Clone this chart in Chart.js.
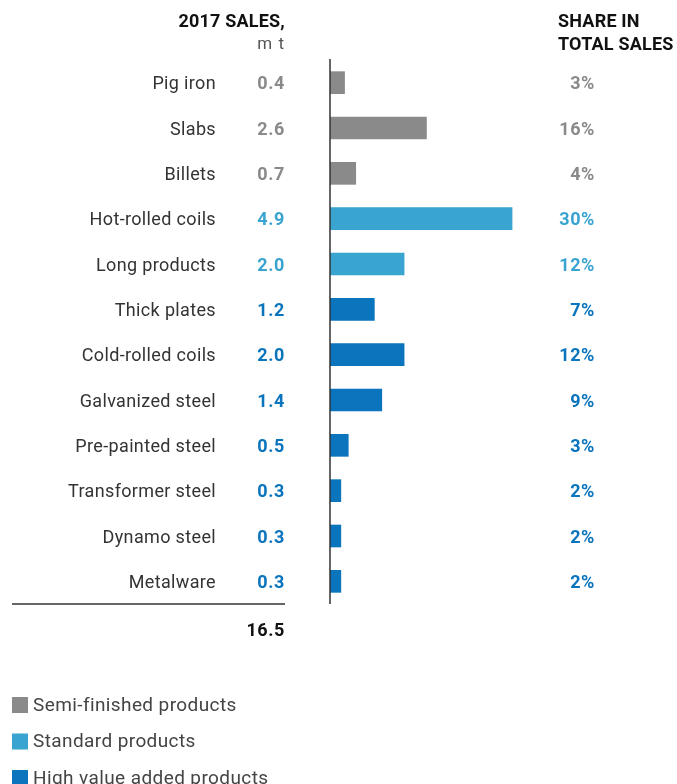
<!DOCTYPE html>
<html>
<head>
<meta charset="utf-8">
<script src="https://cdn.jsdelivr.net/npm/chart.js@4/dist/chart.umd.min.js"></script>
<style>
  body { margin: 0; background: #fff; }
  #wrap { width: 677px; height: 784px; }
</style>
</head>
<body>
<div id="wrap"><canvas id="chart_sales" width="677" height="784"></canvas></div>
<script>
// 데이터
const categories = ['Pig iron', 'Slabs', 'Billets', 'Hot-rolled coils', 'Long products', 'Thick plates',
    'Cold-rolled coils', 'Galvanized steel', 'Pre-painted steel', 'Transformer steel', 'Dynamo steel', 'Metalware'];
const sales = [0.4, 2.6, 0.7, 4.9, 2.0, 1.2, 2.0, 1.4, 0.5, 0.3, 0.3, 0.3];
const shares = [3, 16, 4, 30, 12, 7, 12, 9, 3, 2, 2, 2];
const groupOf = [0, 0, 0, 1, 1, 2, 2, 2, 2, 2, 2, 2];
const groupNames = ['Semi-finished products', 'Standard products', 'High value added products'];
const groupColors = ['#8a8a8a', '#39a4cf', '#0a74bc'];
const totalSales = '16.5';

const FONT = 'Roboto, "Noto Sans", sans-serif';

// 그룹별 데이터셋
const datasets = groupNames.map(function(name, g) {
    return {
        label: name,
        data: sales.map(function(v, i) { return groupOf[i] === g ? v : null; }),
        backgroundColor: groupColors[g],
        borderWidth: 0,
        barPercentage: 0.5,
        categoryPercentage: 1
    };
});

// 텍스트, 축선, 범례 그리기
const tablePlugin = {
    id: 'tablePlugin',
    afterDraw: function(chart) {
        const ctx = chart.ctx;
        const x = chart.scales.x;
        const y = chart.scales.y;
        const area = chart.chartArea;
        ctx.save();

        // 세로 축선
        ctx.strokeStyle = '#333';
        ctx.lineWidth = 1.5;
        ctx.beginPath();
        ctx.moveTo(x.getPixelForValue(0), area.top - 1);
        ctx.lineTo(x.getPixelForValue(0), area.bottom);
        ctx.stroke();

        // 헤더
        ctx.textBaseline = 'middle';
        ctx.fillStyle = '#111';
        ctx.font = 'bold 18px ' + FONT;
        ctx.letterSpacing = '0.2px';
        ctx.textAlign = 'right';
        ctx.fillText('2017 SALES,', 285, 22);
        ctx.textAlign = 'left';
        ctx.fillText('SHARE IN', 558, 22);
        ctx.fillText('TOTAL SALES', 558, 45);
        ctx.textAlign = 'right';
        ctx.font = '17px ' + FONT;
        ctx.letterSpacing = '1px';
        ctx.fillStyle = '#555';
        ctx.fillText('m t', 285, 45);

        // 행 텍스트
        categories.forEach(function(cat, i) {
            const py = y.getPixelForValue(i) + 2;
            const col = groupColors[groupOf[i]];
            ctx.textAlign = 'right';
            ctx.font = '18px ' + FONT;
            ctx.letterSpacing = '0.35px';
            ctx.fillStyle = '#333';
            ctx.fillText(cat, 216, py);
            ctx.font = 'bold 18px ' + FONT;
            ctx.letterSpacing = '0.6px';
            ctx.fillStyle = col;
            ctx.fillText(sales[i].toFixed(1), 285, py);
            ctx.fillText(shares[i] + '%', 595, py);
        });

        // 합계
        ctx.strokeStyle = '#333';
        ctx.lineWidth = 1.5;
        ctx.beginPath();
        ctx.moveTo(12, area.bottom);
        ctx.lineTo(285, area.bottom);
        ctx.stroke();
        ctx.font = 'bold 18px ' + FONT;
        ctx.letterSpacing = '0.6px';
        ctx.fillStyle = '#111';
        ctx.textAlign = 'right';
        ctx.fillText(totalSales, 285, 631);

        // 범례
        ctx.textAlign = 'left';
        ctx.font = '19px ' + FONT;
        ctx.letterSpacing = '0.4px';
        chart.data.datasets.forEach(function(ds, g) {
            const ly = 705 + g * 36.5;
            ctx.fillStyle = ds.backgroundColor;
            ctx.fillRect(12, ly - 8, 16, 16);
            ctx.fillStyle = '#444';
            ctx.fillText(ds.label, 33, ly + 1);
        });
        ctx.restore();
    }
};

const chartSales = new Chart(document.getElementById('chart_sales'), {
    type: 'bar',
    data: { labels: categories, datasets: datasets },
    options: {
        indexAxis: 'y',
        responsive: false,
        animation: false,
        layout: { padding: { left: 330, top: 60, right: 12, bottom: 180 } },
        scales: {
            x: { display: false, min: 0, max: 9, stacked: true },
            y: { display: false, stacked: true }
        },
        plugins: {
            legend: { display: false },
            tooltip: { enabled: false }
        }
    },
    plugins: [tablePlugin]
});
</script>
</body>
</html>
